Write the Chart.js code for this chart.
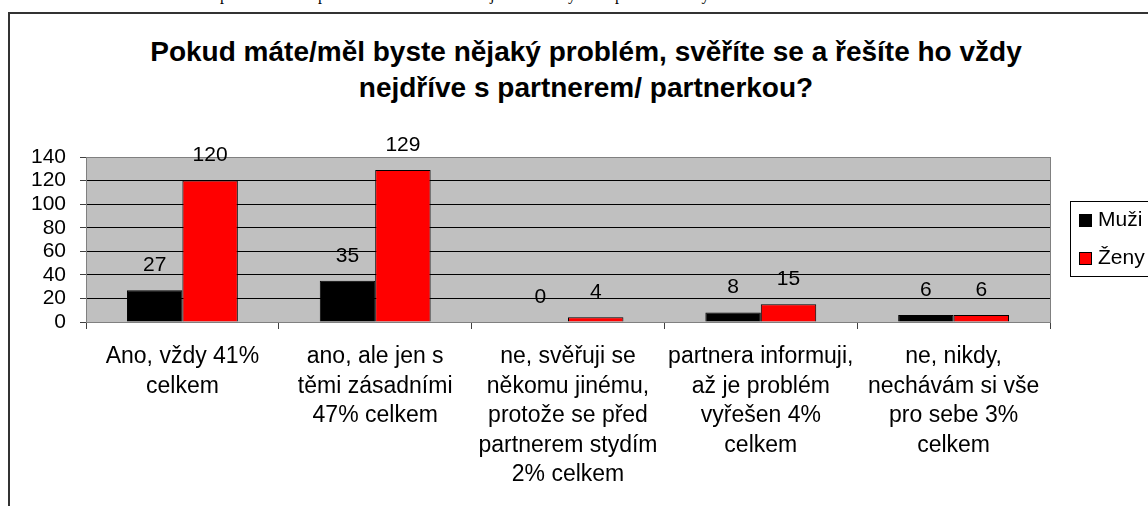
<!DOCTYPE html>
<html>
<head>
<meta charset="utf-8">
<script src="https://cdn.jsdelivr.net/npm/chart.js@4/dist/chart.umd.min.js"></script>
<style>
  html, body { margin: 0; padding: 0; background: #fff; overflow: hidden; width: 1148px; height: 506px; }
  #wrap { position: relative; width: 1148px; height: 506px; overflow: hidden; }
  #cut { position: absolute; left: 0; top: -14px; font: 16px "Liberation Serif", "Times New Roman", serif; color: #000; white-space: nowrap; }
  #cut span { position: absolute; top: 0; }
  #frame { position: absolute; left: 8px; top: 12px; width: 1200px; height: 600px; border: 2px solid #333; box-sizing: border-box; }
  #title { position: absolute; left: 8px; width: 1156px; top: 34px; text-align: center;
           font: bold 28px "Liberation Sans", Arial, sans-serif; line-height: 36px; color: #000; }
  canvas { position: absolute; left: 0; top: 0; }
</style>
</head>
<body>
<div id="wrap">
  <div id="cut"><span style="left:220px">problém</span><span style="left:318px">partnerem</span><span style="left:490px">jinak</span><span style="left:560px">by</span><span style="left:615px">proto</span><span style="left:697px">ty</span></div>
  <div id="frame"></div>
  <div id="title"></div>
  <canvas id="chart" width="1148" height="506"></canvas>
</div>
<script>
// data
const titleLines = ['Pokud máte/měl byste nějaký problém, svěříte se a řešíte ho vždy', 'nejdříve s partnerem/ partnerkou?'];
const categories = [
  ['Ano, vždy 41%', 'celkem'],
  ['ano, ale jen s', 'těmi zásadními', '47% celkem'],
  ['ne, svěřuji se', 'někomu jinému,', 'protože se před', 'partnerem stydím', '2% celkem'],
  ['partnera informuji,', 'až je problém', 'vyřešen 4%', 'celkem'],
  ['ne, nikdy,', 'nechávám si vše', 'pro sebe 3%', 'celkem'],
];
const seriesNames = ['Muži', 'Ženy'];
const muzi = [27, 35, 0, 8, 6];
const zeny = [120, 129, 4, 15, 6];
const yMin = 0, yMax = 140, yStep = 20;

document.getElementById('title').innerHTML = titleLines.join('<br>');

Chart.defaults.font.family = '"Liberation Sans", Arial, sans-serif';
Chart.defaults.color = '#000';

const plotBg = {
  id: 'plotBg',
  beforeDraw(chart) {
    const { ctx, chartArea: a } = chart;
    ctx.save();
    ctx.fillStyle = '#C0C0C0';
    ctx.fillRect(a.left, a.top, a.right - a.left, a.bottom - a.top);
    ctx.restore();
  },
  beforeDatasetsDraw(chart) {
    const { ctx, chartArea: a } = chart;
    ctx.save();
    ctx.strokeStyle = '#808080';
    ctx.lineWidth = 1;
    ctx.strokeRect(Math.round(a.left) + 0.5, Math.round(a.top) + 0.5, Math.round(a.right - a.left), Math.round(a.bottom - a.top));
    ctx.restore();
  },
};

const valueLabels = {
  id: 'valueLabels',
  afterDatasetsDraw(chart) {
    const ctx = chart.ctx;
    ctx.save();
    ctx.font = '21px "Liberation Sans", Arial, sans-serif';
    ctx.fillStyle = '#000';
    ctx.textAlign = 'center';
    ctx.textBaseline = 'middle';
    chart.data.datasets.forEach((ds, i) => {
      chart.getDatasetMeta(i).data.forEach((bar, j) => {
        ctx.fillText(String(ds.data[j]), bar.x, bar.y - 25);
      });
    });
    ctx.restore();
  },
};

const boxLegend = {
  id: 'boxLegend',
  afterDraw(chart) {
    const ctx = chart.ctx;
    const x = 1070.5, y = 201.5, w = 100, h = 75;
    ctx.save();
    ctx.fillStyle = '#fff';
    ctx.fillRect(x, y, w, h);
    ctx.strokeStyle = '#000';
    ctx.lineWidth = 1;
    ctx.strokeRect(x, y, w, h);
    ctx.font = '21px "Liberation Sans", Arial, sans-serif';
    ctx.textBaseline = 'middle';
    chart.data.datasets.forEach((ds, i) => {
      const cy = 220 + i * 38;
      ctx.fillStyle = ds.backgroundColor;
      ctx.fillRect(1079, cy - 6, 13, 13);
      ctx.strokeStyle = '#000';
      ctx.strokeRect(1079.5, cy - 5.5, 12, 12);
      ctx.fillStyle = '#000';
      ctx.fillText(ds.label, 1098, cy);
    });
    ctx.restore();
  },
};

new Chart(document.getElementById('chart').getContext('2d'), {
  type: 'bar',
  data: {
    labels: categories,
    datasets: [
      { label: seriesNames[0], data: muzi, backgroundColor: '#000000', borderColor: '#000000', borderWidth: 1 },
      { label: seriesNames[1], data: zeny, backgroundColor: '#FF0000', borderColor: '#000000', borderWidth: 1 },
    ],
  },
  options: {
    responsive: false,
    animation: false,
    devicePixelRatio: 1,
    categoryPercentage: 0.575,
    barPercentage: 1,
    layout: { padding: { top: 157, right: 98, left: 0, bottom: 0 } },
    plugins: {
      legend: { display: false },
      title: { display: false },
      tooltip: { enabled: false },
    },
    scales: {
      x: {
        offset: true,
        border: { display: false },
        grid: { offset: true, drawOnChartArea: false, tickLength: 7, tickColor: '#404040' },
        ticks: {
          autoSkip: false, maxRotation: 0, minRotation: 0, padding: 13,
          font: { size: 23, lineHeight: 29.5 / 23 },
        },
        afterFit: (s) => { s.height = 184; },
      },
      y: {
        min: yMin, max: yMax,
        border: { display: false },
        grid: {
          color: (c) => (c.tick && (c.tick.value === yMin || c.tick.value === yMax)) ? '#808080' : '#000000',
          tickLength: 6, tickColor: '#404040',
        },
        ticks: { stepSize: yStep, autoSkip: false, padding: 14, font: { size: 21, lineHeight: 1 } },
        afterFit: (s) => { s.width = 86; },
      },
    },
  },
  plugins: [plotBg, valueLabels, boxLegend],
});
</script>
</body>
</html>
